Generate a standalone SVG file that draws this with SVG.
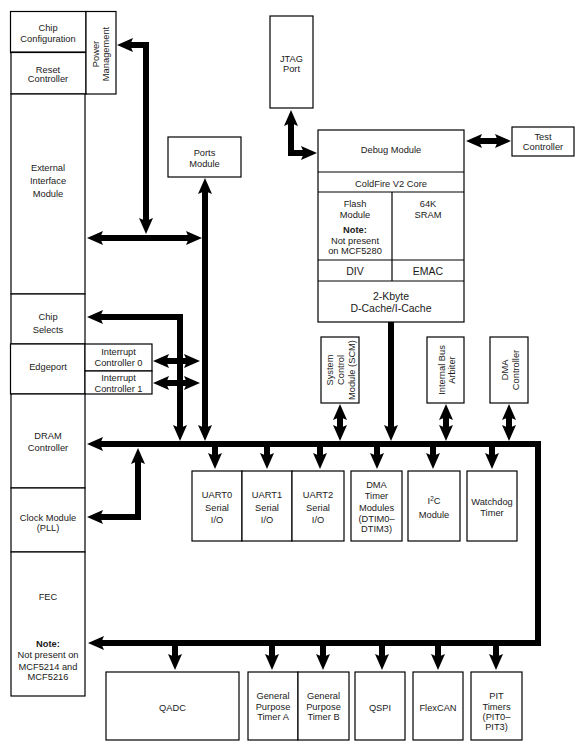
<svg xmlns="http://www.w3.org/2000/svg" width="585" height="751" viewBox="0 0 585 751">
<style>
.b{fill:#fff;stroke:#000;stroke-width:1.2}
.ln{fill:none;stroke:#000;stroke-width:1.2}
text{font-family:"Liberation Sans",Arial,sans-serif;font-size:9.3px;fill:#1a1a1a;text-anchor:middle}
.big{font-size:10.5px}
.bold{font-weight:bold}
.c{fill:none;stroke:#000;stroke-width:6;stroke-linejoin:miter}
.a2{marker-start:url(#ah);marker-end:url(#ah)}
.a1{marker-end:url(#ah)}
</style>
<defs>
<marker id="ah" viewBox="0 0 16 14" refX="8" refY="7" markerWidth="16" markerHeight="14" markerUnits="userSpaceOnUse" orient="auto-start-reverse">
<path d="M0,0 L16,7 L0,14 L3,7 z" fill="#000"/>
</marker>
</defs>
<rect width="585" height="751" fill="#fff"/>

<g id="connectors">
<path class="c a2" d="M125,45 H146 V226"/>
<path class="c a2" d="M95,238 H194"/>
<path class="c a2" d="M205,186 V433"/>
<path class="c a2" d="M95,317 H180 V433"/>
<path class="c a2" d="M161,361 H192"/>
<path class="c a2" d="M161,383 H192"/>
<path class="c a2" d="M95,444 H538 V643 H96"/>
<path class="c a2" d="M95,517 H138 V456"/>
<path class="c a2" d="M291,118 V153 H309"/>
<path class="c a2" d="M474,141 H503"/>
<path class="c a1" d="M391,322 V433"/>
<path class="c a2" d="M340,412 V433"/>
<path class="c a2" d="M446,412 V433"/>
<path class="c a2" d="M509,412 V433"/>
<path class="c a1" d="M215,446 V461"/>
<path class="c a1" d="M267,446 V461"/>
<path class="c a1" d="M320,446 V461"/>
<path class="c a1" d="M377,446 V461"/>
<path class="c a1" d="M433,446 V461"/>
<path class="c a1" d="M492,446 V461"/>
<path class="c a1" d="M175,645 V662"/>
<path class="c a1" d="M272,645 V662"/>
<path class="c a1" d="M323,645 V662"/>
<path class="c a1" d="M382,645 V662"/>
<path class="c a1" d="M438,645 V662"/>
<path class="c a1" d="M496,645 V662"/>
</g>

<g id="chip-configuration"><rect class="b" x="10.5" y="11.5" width="75.5" height="41"/><line x1="10.5" y1="52.5" x2="86" y2="52.5" stroke="#000" stroke-width="2"/>
<text x="48" y="31">Chip</text><text x="48" y="41.5">Configuration</text></g>
<g id="reset-controller"><rect class="b" x="11" y="52.5" width="75" height="41.5"/>
<text x="48" y="72.5">Reset</text><text x="48" y="82">Controller</text></g>
<g id="power-management"><rect class="b" x="86" y="11.5" width="30" height="82.5"/>
<text transform="translate(101,54) rotate(-90)"><tspan x="0" y="-2.5">Power</tspan><tspan x="0" y="8">Management</tspan></text></g>
<g id="external-interface-module"><rect class="b" x="11" y="94" width="74" height="200"/>
<text x="48" y="171">External</text><text x="48" y="184">Interface</text><text x="48" y="197">Module</text></g>
<g id="chip-selects"><rect class="b" x="11" y="294" width="74" height="50"/>
<text x="48" y="319.5">Chip</text><text x="48" y="332.5">Selects</text></g>
<g id="edgeport"><rect class="b" x="10.5" y="344" width="74.5" height="50" stroke-width="1.5"/>
<text x="48" y="370">Edgeport</text></g>
<g id="interrupt-controller-0"><rect class="b" x="85" y="344" width="67" height="27"/>
<text x="118.5" y="355">Interrupt</text><text x="118.5" y="366">Controller 0</text></g>
<g id="interrupt-controller-1"><rect class="b" x="85" y="371" width="67" height="23"/>
<text x="118.5" y="381">Interrupt</text><text x="118.5" y="392">Controller 1</text></g>
<g id="dram-controller"><rect class="b" x="11" y="394" width="74" height="94"/>
<text x="48" y="439">DRAM</text><text x="48" y="451">Controller</text></g>
<g id="clock-module"><rect class="b" x="11" y="488" width="74" height="64"/>
<text x="48" y="520.5">Clock Module</text><text x="48" y="531">(PLL)</text></g>
<g id="fec"><rect class="b" x="11" y="552" width="74" height="144"/>
<text x="48" y="600">FEC</text>
<text x="48" y="647" class="bold">Note:</text><text x="48" y="658">Not present on</text><text x="48" y="669.5">MCF5214 and</text><text x="48" y="680">MCF5216</text></g>

<g id="ports-module"><rect class="b" x="168" y="137" width="73" height="40"/>
<text x="204.5" y="156">Ports</text><text x="204.5" y="167">Module</text></g>
<g id="jtag-port"><rect class="b" x="270" y="16" width="43" height="92"/>
<text x="291.5" y="62">JTAG</text><text x="291.5" y="72">Port</text></g>
<g id="test-controller"><rect class="b" x="512" y="127" width="62" height="29"/>
<text x="543" y="139.5">Test</text><text x="543" y="150">Controller</text></g>

<g id="core">
<rect class="b" x="318" y="130" width="146" height="192"/>
<line class="ln" x1="318" y1="172" x2="464" y2="172"/>
<line class="ln" x1="318" y1="192" x2="464" y2="192"/>
<line class="ln" x1="318" y1="260" x2="464" y2="260"/>
<line class="ln" x1="318" y1="281" x2="464" y2="281"/>
<line class="ln" x1="392" y1="192" x2="392" y2="281"/>
<text x="391" y="153">Debug Module</text>
<text x="391" y="187">ColdFire V2 Core</text>
<text x="355" y="206.5">Flash</text><text x="355" y="217.5">Module</text>
<text x="355" y="233" class="bold">Note:</text><text x="355" y="243.5">Not present</text><text x="355" y="253.5">on MCF5280</text>
<text x="428" y="206.5">64K</text><text x="428" y="217.5">SRAM</text>
<text x="355" y="275" class="big">DIV</text><text x="428" y="275" class="big">EMAC</text>
<text x="391" y="300" class="big">2-Kbyte</text><text x="391" y="311.5" class="big">D-Cache/I-Cache</text>
</g>

<g id="scm"><rect class="b" x="321" y="337" width="38" height="66"/>
<text transform="translate(340,370) rotate(-90)"><tspan x="0" y="-7.5">System</tspan><tspan x="0" y="3.5">Control</tspan><tspan x="0" y="14.5">Module (SCM)</tspan></text></g>
<g id="internal-bus-arbiter"><rect class="b" x="427" y="337" width="37" height="66"/>
<text transform="translate(446,370) rotate(-90)"><tspan x="0" y="-1.5">Internal Bus</tspan><tspan x="0" y="8.5">Arbiter</tspan></text></g>
<g id="dma-controller"><rect class="b" x="490" y="337" width="38" height="66"/>
<text transform="translate(509.5,370) rotate(-90)"><tspan x="0" y="-2">DMA</tspan><tspan x="0" y="9">Controller</tspan></text></g>

<g id="uart0"><rect class="b" x="192" y="471" width="50" height="70"/>
<text x="217" y="498">UART0</text><text x="217" y="510.5">Serial</text><text x="217" y="523">I/O</text></g>
<g id="uart1"><rect class="b" x="242" y="471" width="50" height="70"/>
<text x="267" y="498">UART1</text><text x="267" y="510.5">Serial</text><text x="267" y="523">I/O</text></g>
<g id="uart2"><rect class="b" x="292" y="471" width="52" height="70"/>
<text x="318" y="498">UART2</text><text x="318" y="510.5">Serial</text><text x="318" y="523">I/O</text></g>
<g id="dma-timer"><rect class="b" x="351" y="471" width="51" height="70"/>
<text x="376.5" y="487.5">DMA</text><text x="376.5" y="499">Timer</text><text x="376.5" y="511">Modules</text><text x="376.5" y="522">(DTIM0–</text><text x="376.5" y="532">DTIM3)</text></g>
<g id="i2c"><rect class="b" x="408" y="471" width="52" height="70"/>
<text x="434" y="504">I<tspan dy="-3.5" font-size="6.5">2</tspan><tspan dy="3.5">C</tspan></text><text x="434" y="518">Module</text></g>
<g id="watchdog"><rect class="b" x="467" y="471" width="50" height="70"/>
<text x="492" y="505">Watchdog</text><text x="492" y="515.5">Timer</text></g>

<g id="qadc"><rect class="b" x="106" y="672" width="133" height="68"/>
<text x="172.5" y="711">QADC</text></g>
<g id="gpt-a"><rect class="b" x="248" y="672" width="50" height="68"/>
<text x="273" y="699">General</text><text x="273" y="709.5">Purpose</text><text x="273" y="720">Timer A</text></g>
<g id="gpt-b"><rect class="b" x="298" y="672" width="51" height="68"/>
<text x="323.5" y="699">General</text><text x="323.5" y="709.5">Purpose</text><text x="323.5" y="720">Timer B</text></g>
<g id="qspi"><rect class="b" x="355" y="672" width="50" height="68"/>
<text x="380" y="711">QSPI</text></g>
<g id="flexcan"><rect class="b" x="413" y="672" width="50" height="68"/>
<text x="438" y="711">FlexCAN</text></g>
<g id="pit"><rect class="b" x="471" y="672" width="51" height="68"/>
<text x="496.5" y="699">PIT</text><text x="496.5" y="709.5">Timers</text><text x="496.5" y="720">(PIT0–</text><text x="496.5" y="730">PIT3)</text></g>
</svg>
